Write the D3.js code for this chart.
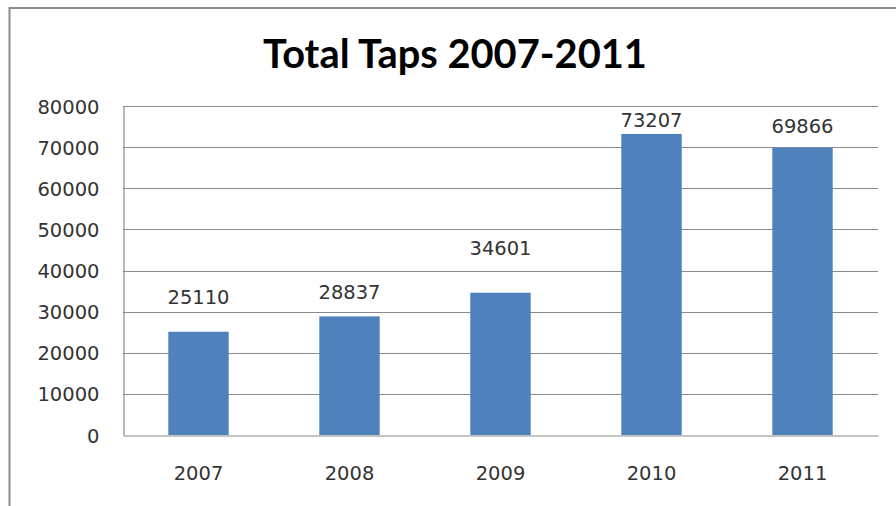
<!DOCTYPE html>
<html>
<head>
<meta charset="utf-8">
<script src="https://cdn.jsdelivr.net/npm/d3@7"></script>
<style>
  html, body { margin: 0; padding: 0; background: #ffffff; }
  svg { display: block; }
</style>
</head>
<body>
<svg id="chart" width="896" height="506"></svg>
<script>
// ---- data ----
const years = ["2007", "2008", "2009", "2010", "2011"];
const taps = [25110, 28837, 34601, 73207, 69866];
const yTicks = [0, 10000, 20000, 30000, 40000, 50000, 60000, 70000, 80000];
const title = "Total Taps 2007-2011";
// manual label lift above each bar (pixels), as placed in the original
const labelLift = [28, 17, 38, 7, 15];

const svg = d3.select("#chart");
const plot = { left: 123, right: 878, top: 106, bottom: 435 };
const textColor = "#333333";
const fontFam = "DejaVu Sans, sans-serif";
const fontSize = 19.5;

// outer chart frame (extends beyond the visible area right/bottom)
svg.append("rect")
  .attr("x", 9.5).attr("y", 8)
  .attr("width", 1000).attr("height", 1000)
  .attr("fill", "#ffffff")
  .attr("stroke", "#8c8c8c").attr("stroke-width", 2);

const x = d3.scaleBand().domain(years).range([plot.left, plot.right]).paddingInner(0.6).paddingOuter(0.3);
const y = d3.scaleLinear().domain([0, 80000]).range([plot.bottom, plot.top]);

// gridlines
svg.append("g").selectAll("line").data(yTicks.filter(d => d > 0)).join("line")
  .attr("x1", plot.left).attr("x2", plot.right)
  .attr("y1", d => Math.round(y(d)) + 0.5).attr("y2", d => Math.round(y(d)) + 0.5)
  .attr("stroke", "#8a8a8a").attr("stroke-width", 1.2);

// bars
svg.append("g").selectAll("rect").data(taps).join("rect")
  .attr("x", (d, i) => x(years[i]))
  .attr("width", x.bandwidth())
  .attr("y", d => y(d))
  .attr("height", d => y(0) - y(d))
  .attr("fill", "#4f81bd");

// y axis
const yAxis = d3.axisLeft(y).tickValues(yTicks).tickSize(0).tickPadding(24).tickFormat(d3.format("d"));
const gy = svg.append("g").attr("transform", `translate(${plot.left + 0.5},0)`).call(yAxis);
gy.select(".domain").attr("stroke", "#8a8a8a").attr("stroke-width", 1.2);
gy.selectAll("text")
  .attr("font-family", fontFam).attr("font-size", fontSize)
  .attr("fill", textColor).attr("dy", "0.36em");

// x axis
const xAxis = d3.axisBottom(x).tickSize(0).tickPadding(31);
const gx = svg.append("g").attr("transform", `translate(0,${plot.bottom + 0.5})`).call(xAxis);
gx.select(".domain").attr("stroke", "#8a8a8a").attr("stroke-width", 1.2);
gx.selectAll("text")
  .attr("font-family", fontFam).attr("font-size", fontSize)
  .attr("fill", textColor);

// data labels
svg.append("g").selectAll("text").data(taps).join("text")
  .attr("x", (d, i) => x(years[i]) + x.bandwidth() / 2)
  .attr("y", (d, i) => y(d) - labelLift[i])
  .attr("text-anchor", "middle")
  .attr("font-family", fontFam).attr("font-size", fontSize)
  .attr("fill", textColor)
  .text(d => d);

// title
const t = svg.append("text")
  .attr("x", 455).attr("y", 68)
  .attr("text-anchor", "middle")
  .attr("font-family", "Lato, 'Open Sans', sans-serif")
  .attr("font-weight", "bold")
  .attr("font-size", 40)
  .attr("fill", "#000000")
  .text(title);
const w = t.node().getComputedTextLength();
t.attr("font-size", 40 * 384 / w);
</script>
</body>
</html>
